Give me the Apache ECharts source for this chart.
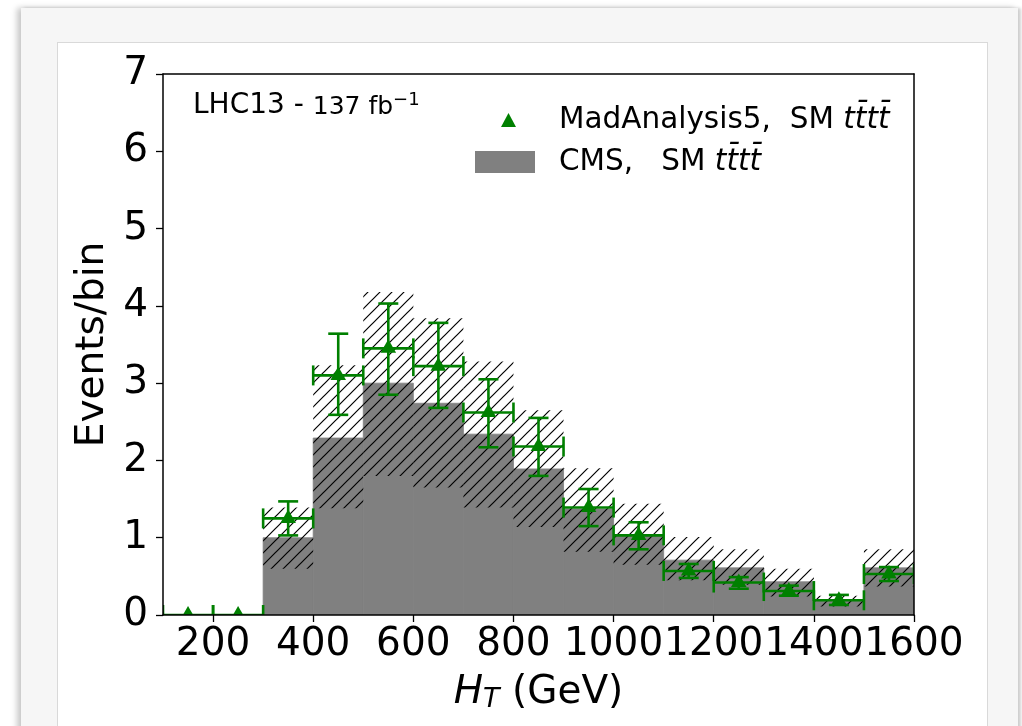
<!DOCTYPE html>
<html>
<head>
<meta charset="utf-8">
<script src="https://cdn.jsdelivr.net/npm/echarts@6/dist/echarts.min.js"></script>
<style>
  html, body { margin: 0; padding: 0; background: #fff; width: 1022px; height: 726px; overflow: hidden; }
  #card { position: absolute; left: 21px; top: 8px; width: 997px; height: 760px; background: #f6f6f6;
          box-shadow: -4px 0 6px rgba(0,0,0,0.22), 3px 0 3px rgba(0,0,0,0.18); }
  #panel { position: absolute; left: 57px; top: 42px; width: 929px; height: 740px; background: #fff; border: 1px solid #d9d9d9; }
  #chart { position: absolute; left: 0; top: 0; width: 1022px; height: 726px; }
</style>
</head>
<body>
<div id="card"></div>
<div id="panel"></div>
<div id="chart"></div>
<script>
// ---- data ----
const xTicks = [200, 400, 600, 800, 1000, 1200, 1400, 1600];
const yTicks = [0, 1, 2, 3, 4, 5, 6, 7];

// CMS SM tttt histogram (bins 300..1600, width 100)
const cmsBinLow  = [300, 400, 500, 600, 700, 800, 900, 1000, 1100, 1200, 1300, 1400, 1500];
const cmsBinHigh = [400, 500, 600, 700, 800, 900, 1000, 1100, 1200, 1300, 1400, 1500, 1600];
const cmsValues  = [1.00, 2.29, 3.00, 2.74, 2.34, 1.89, 1.37, 1.03, 0.71, 0.61, 0.43, 0.18, 0.61];
const cmsUncLow  = [0.60, 1.38, 1.80, 1.65, 1.39, 1.14, 0.82, 0.65, 0.45, 0.39, 0.24, 0.11, 0.37];
const cmsUncHigh = [1.39, 3.23, 4.18, 3.84, 3.28, 2.65, 1.90, 1.44, 1.01, 0.85, 0.60, 0.25, 0.85];

// MadAnalysis5 SM tttt (bins 100..1600)
const maBinLow  = [100, 200, 300, 400, 500, 600, 700, 800, 900, 1000, 1100, 1200, 1300, 1400, 1500];
const maBinHigh = [200, 300, 400, 500, 600, 700, 800, 900, 1000, 1100, 1200, 1300, 1400, 1500, 1600];
const maValues  = [0, 0, 1.25, 3.10, 3.45, 3.22, 2.62, 2.18, 1.39, 1.03, 0.57, 0.42, 0.31, 0.19, 0.53];
const maErrLow  = [0, 0, 1.03, 2.59, 2.85, 2.68, 2.17, 1.80, 1.15, 0.85, 0.48, 0.34, 0.25, 0.13, 0.44];
const maErrHigh = [0, 0, 1.47, 3.64, 4.03, 3.78, 3.05, 2.55, 1.63, 1.20, 0.66, 0.49, 0.38, 0.26, 0.62];

const nameMA  = 'MadAnalysis5,  SM tt\u0304tt\u0304';
const nameCMS = 'CMS,   SM tt\u0304tt\u0304';

// ---- hatch pattern ----
function makeHatch() {
  const s = 12;
  const c = document.createElement('canvas');
  c.width = s; c.height = s;
  const g = c.getContext('2d');
  g.strokeStyle = '#000';
  g.lineWidth = 1.2;
  g.beginPath();
  g.moveTo(-1, s + 1); g.lineTo(s + 1, -1);
  g.moveTo(-1, 1); g.lineTo(1, -1);
  g.moveTo(s - 1, s + 1); g.lineTo(s + 1, s - 1);
  g.stroke();
  return c;
}
const hatch = makeHatch();

const FONT = 'DejaVu Sans';
const GREEN = '#008000';
const GRAY = '#808080';

const cmsData = cmsBinLow.map((lo, i) => [lo, cmsBinHigh[i], cmsValues[i]]);
const uncData = cmsBinLow.map((lo, i) => [lo, cmsBinHigh[i], cmsUncLow[i], cmsUncHigh[i]]);
const maData  = maBinLow.map((lo, i) => [lo, maBinHigh[i], maValues[i], maErrLow[i], maErrHigh[i]]);

const chart = echarts.init(document.getElementById('chart'), null, { renderer: 'canvas' });

const LFS = 29.5;
const legendText = (gap) => ({
  fontFamily: FONT, fontSize: LFS, color: '#000',
  rich: {
    g: { width: gap, fontSize: LFS },
    r: { fontFamily: FONT, fontSize: LFS, color: '#000' },
    it: { fontFamily: FONT, fontSize: LFS, fontStyle: 'italic', color: '#000' }
  }
});

const option = {
  backgroundColor: 'transparent',
  animation: false,
  textStyle: { fontFamily: FONT },
  title: {
    left: 188, top: 86,
    text: 'LHC13 - {s|137 fb}{sup|\u22121}',
    textStyle: {
      fontFamily: FONT, fontSize: 28, fontWeight: 'normal', color: '#000',
      rich: {
        s: { fontFamily: FONT, fontSize: 25, color: '#000', padding: [2, 0, 0, 0] },
        sup: { fontFamily: FONT, fontSize: 18, color: '#000', padding: [0, 0, 12, 0] }
      }
    }
  },
  legend: [
    {
      left: 496, top: 100, orient: 'vertical',
      itemWidth: 15, itemHeight: 14,
      data: [{ name: nameMA, icon: 'triangle' }],
      formatter: n => '{g| }{r|MadAnalysis5,  SM }{it|tt\u0304tt\u0304}',
      textStyle: legendText(38),
      selectedMode: false
    },
    {
      left: 470, top: 142, orient: 'vertical',
      itemWidth: 60, itemHeight: 22,
      data: [{ name: nameCMS, icon: 'rect' }],
      formatter: n => '{g| }{r|CMS,   SM }{it|tt\u0304tt\u0304}',
      textStyle: legendText(19),
      selectedMode: false
    }
  ],
  grid: { left: 163, right: 108, top: 74, bottom: 111, show: false, containLabel: false },
  xAxis: [
    {
      type: 'value', min: 100, max: 1600, z: 10,
      name: '{i|H}{sub|T} (GeV)', nameLocation: 'middle', nameGap: 57,
      nameTextStyle: {
        fontFamily: FONT, fontSize: 39, color: '#000',
        rich: {
          i: { fontFamily: FONT, fontSize: 39, fontStyle: 'italic', color: '#000' },
          sub: { fontFamily: FONT, fontSize: 27, fontStyle: 'italic', color: '#000', padding: [14, 0, 0, 0] }
        }
      },
      splitLine: { show: false },
      axisLine: { show: true, onZero: false, lineStyle: { color: '#000', width: 1.5 } },
      axisTick: { show: true, customValues: xTicks, length: 7, inside: false, lineStyle: { color: '#000', width: 1.3 } },
      axisLabel: { customValues: xTicks, margin: 10, fontFamily: FONT, fontSize: 39, color: '#000',
                   hideOverlap: false, showMaxLabel: true, showMinLabel: true,
                   formatter: v => String(v) }
    },
    {
      type: 'value', min: 100, max: 1600, position: 'top', z: 10,
      splitLine: { show: false },
      axisLine: { show: true, onZero: false, lineStyle: { color: '#000', width: 1.5 } },
      axisTick: { show: false }, axisLabel: { show: false }
    }
  ],
  yAxis: [
    {
      type: 'value', min: 0, max: 7, interval: 1, z: 10,
      name: 'Events/bin', nameLocation: 'middle', nameGap: 43,
      nameTextStyle: { fontFamily: FONT, fontSize: 39, color: '#000' },
      splitLine: { show: false },
      axisLine: { show: true, onZero: false, lineStyle: { color: '#000', width: 1.5 } },
      axisTick: { show: true, length: 7, inside: false, lineStyle: { color: '#000', width: 1.3 } },
      axisLabel: { margin: 15, fontFamily: FONT, fontSize: 39, color: '#000',
                   customValues: yTicks, formatter: v => String(v) }
    },
    {
      type: 'value', min: 0, max: 7, interval: 1, position: 'right', z: 10,
      splitLine: { show: false },
      axisLine: { show: true, onZero: false, lineStyle: { color: '#000', width: 1.5 } },
      axisTick: { show: false }, axisLabel: { show: false }
    }
  ],
  series: [
    {
      name: nameCMS, type: 'custom', z: 1, clip: true,
      itemStyle: { color: GRAY },
      encode: { x: [0, 1], y: 2 },
      data: cmsData,
      renderItem: (params, api) => {
        const p0 = api.coord([api.value(0), 0]);
        const p1 = api.coord([api.value(1), api.value(2)]);
        return { type: 'rect',
          shape: { x: p0[0], y: p1[1], width: p1[0] - p0[0], height: p0[1] - p1[1] },
          style: { fill: GRAY, stroke: GRAY, lineWidth: 0.8 } };
      }
    },
    {
      name: 'CMS uncertainty', type: 'custom', z: 2, clip: true,
      encode: { x: [0, 1], y: [2, 3] },
      data: uncData,
      renderItem: (params, api) => {
        const p0 = api.coord([api.value(0), api.value(2)]);
        const p1 = api.coord([api.value(1), api.value(3)]);
        return { type: 'rect',
          shape: { x: p0[0], y: p1[1], width: p1[0] - p0[0], height: p0[1] - p1[1] },
          style: { fill: { image: hatch, repeat: 'repeat' }, stroke: null } };
      }
    },
    {
      name: nameMA, type: 'custom', z: 3, clip: true,
      itemStyle: { color: GREEN },
      encode: { x: [0, 1], y: [2, 3, 4] },
      data: maData,
      renderItem: (params, api) => {
        const lo = api.value(0), hi = api.value(1), v = api.value(2);
        const el = api.value(3), eh = api.value(4);
        const xm = (lo + hi) / 2;
        const pl = api.coord([lo, v]), ph = api.coord([hi, v]);
        const pc = api.coord([xm, v]);
        const pe0 = api.coord([xm, el]), pe1 = api.coord([xm, eh]);
        const cap = 10, lw = 2.6;
        const ls = { stroke: GREEN, lineWidth: lw };
        const children = [
          { type: 'line', shape: { x1: pl[0], y1: pl[1], x2: ph[0], y2: ph[1] }, style: ls },
          { type: 'line', shape: { x1: pl[0], y1: pl[1] - cap, x2: pl[0], y2: pl[1] + cap }, style: ls },
          { type: 'line', shape: { x1: ph[0], y1: ph[1] - cap, x2: ph[0], y2: ph[1] + cap }, style: ls }
        ];
        if (eh > el) {
          children.push(
            { type: 'line', shape: { x1: pe0[0], y1: pe0[1], x2: pe1[0], y2: pe1[1] }, style: ls },
            { type: 'line', shape: { x1: pe0[0] - cap, y1: pe0[1], x2: pe0[0] + cap, y2: pe0[1] }, style: ls },
            { type: 'line', shape: { x1: pe1[0] - cap, y1: pe1[1], x2: pe1[0] + cap, y2: pe1[1] }, style: ls }
          );
        }
        const r = 9;
        children.push({ type: 'polygon',
          shape: { points: [[pc[0], pc[1] - r], [pc[0] + r * 0.866, pc[1] + r * 0.5], [pc[0] - r * 0.866, pc[1] + r * 0.5]] },
          style: { fill: GREEN } });
        return { type: 'group', children };
      }
    }
  ]
};
chart.setOption(option);
</script>
</body>
</html>
